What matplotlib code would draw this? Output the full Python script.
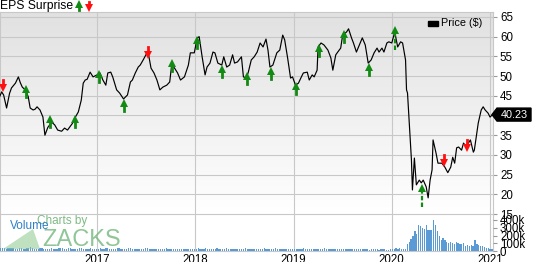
import matplotlib.pyplot as plt
import numpy as np
import pandas as pd
from matplotlib.colors import LinearSegmentedColormap
from matplotlib.lines import Line2D
from matplotlib.patches import Polygon, Rectangle

plt.rcParams['font.family'] = ['Liberation Sans', 'DejaVu Sans']

W, H = 534, 262

# =========================
# Data
# =========================

# weekly-ish closing price, time in decimal years
price_t = [2016.01, 2016.03, 2016.05, 2016.08, 2016.11, 2016.13, 2016.17, 2016.20, 2016.22, 2016.24,
           2016.27, 2016.30, 2016.32, 2016.35, 2016.37, 2016.39, 2016.42, 2016.45, 2016.47, 2016.50,
           2016.54, 2016.57, 2016.60, 2016.64, 2016.67, 2016.70, 2016.75, 2016.78, 2016.81, 2016.84,
           2016.86, 2016.88, 2016.90, 2016.93, 2016.96, 2017.00, 2017.03, 2017.06, 2017.09, 2017.11,
           2017.14, 2017.16, 2017.20, 2017.23, 2017.27, 2017.31, 2017.34, 2017.36, 2017.39, 2017.42,
           2017.44, 2017.47, 2017.50, 2017.52, 2017.55, 2017.58, 2017.61, 2017.64, 2017.67, 2017.71,
           2017.74, 2017.76, 2017.79, 2017.82, 2017.85, 2017.89, 2017.93, 2017.95, 2017.99, 2018.02,
           2018.04, 2018.07, 2018.10, 2018.12, 2018.15, 2018.18, 2018.20, 2018.23, 2018.27, 2018.29,
           2018.32, 2018.35, 2018.38, 2018.40, 2018.43, 2018.47, 2018.49, 2018.52, 2018.54, 2018.57,
           2018.60, 2018.63, 2018.66, 2018.69, 2018.72, 2018.74, 2018.76, 2018.79, 2018.83, 2018.86,
           2018.89, 2018.91, 2018.94, 2018.97, 2018.99, 2019.02, 2019.05, 2019.08, 2019.10, 2019.14,
           2019.16, 2019.19, 2019.21, 2019.24, 2019.25, 2019.28, 2019.31, 2019.35, 2019.38, 2019.40,
           2019.43, 2019.45, 2019.48, 2019.50, 2019.54, 2019.56, 2019.59, 2019.61, 2019.64, 2019.67,
           2019.70, 2019.73, 2019.76, 2019.79, 2019.82, 2019.85, 2019.87, 2019.90, 2019.92, 2019.95,
           2019.97, 2020.00, 2020.03, 2020.06, 2020.09, 2020.11, 2020.14, 2020.15, 2020.16, 2020.18,
           2020.20, 2020.21, 2020.23, 2020.25, 2020.28, 2020.30, 2020.32, 2020.35, 2020.37, 2020.39,
           2020.41, 2020.42, 2020.45, 2020.47, 2020.51, 2020.54, 2020.57, 2020.60, 2020.62, 2020.64,
           2020.66, 2020.68, 2020.71, 2020.73, 2020.76, 2020.78, 2020.80, 2020.83, 2020.84, 2020.87,
           2020.88, 2020.91, 2020.93, 2020.95, 2020.98, 2021.00, 2021.02, 2021.03]
price_v = [44.8, 46.0, 45.2, 41.9, 45.6, 47.0, 48.2, 49.8, 48.3, 47.2,
           46.5, 44.8, 41.9, 41.4, 41.6, 42.2, 41.4, 39.6, 35.0, 37.0,
           38.3, 37.6, 36.3, 36.0, 36.8, 36.3, 38.0, 39.6, 40.9, 43.9,
           48.2, 49.0, 49.2, 51.0, 49.8, 50.3, 50.8, 49.0, 47.7, 50.8,
           51.0, 49.8, 46.5, 45.7, 44.2, 45.2, 48.5, 49.0, 50.8, 52.3,
           52.8, 54.1, 55.5, 56.1, 52.0, 50.8, 49.0, 46.5, 47.2, 47.7,
           48.5, 52.8, 52.0, 50.8, 49.0, 49.8, 52.8, 55.9, 55.9, 59.7,
           60.0, 54.9, 50.3, 52.3, 53.3, 56.1, 55.9, 53.3, 52.8, 54.9,
           52.3, 52.8, 55.4, 53.3, 53.6, 54.9, 49.8, 49.5, 51.0, 54.1,
           54.9, 56.1, 58.4, 57.4, 59.4, 56.6, 52.3, 52.8, 55.9, 56.6,
           60.4, 59.2, 54.6, 49.5, 49.8, 47.7, 48.2, 49.8, 50.8, 51.0,
           49.0, 50.3, 49.8, 51.5, 57.4, 58.4, 57.9, 56.6, 54.6, 51.5,
           55.4, 56.1, 57.1, 60.4, 61.2, 62.0, 59.7, 58.4, 56.1, 57.9,
           59.7, 57.9, 53.3, 54.1, 55.9, 57.1, 56.1, 57.1, 56.1, 58.4,
           58.7, 58.4, 61.2, 57.4, 58.7, 58.4, 54.1, 46.5, 45.7, 37.0,
           28.7, 21.1, 29.2, 22.4, 23.6, 22.9, 23.6, 21.9, 19.1, 23.6,
           26.2, 33.8, 30.5, 27.9, 27.9, 26.9, 25.5, 26.9, 29.4, 27.9,
           31.8, 32.0, 31.2, 33.0, 32.0, 33.0, 33.8, 30.7, 31.2, 36.3,
           38.1, 41.4, 42.2, 41.4, 40.6, 39.6, 40.1, 40.23]

# earnings surprise markers
eps_t = [2016.04, 2016.28, 2016.52, 2016.78, 2017.02, 2017.27, 2017.52, 2017.76, 2018.02, 2018.27,
         2018.53, 2018.77, 2019.03, 2019.26, 2019.51, 2019.77, 2020.03, 2020.31, 2020.53, 2020.77]
eps_p = [47.7, 46.0, 38.4, 38.4, 49.8, 42.4, 56.1, 52.6, 58.4, 51.0,
         49.3, 50.5, 46.7, 56.4, 59.9, 51.5, 59.2, 19.3, 28.7, 32.5]
eps_beat = [False, True, True, True, True, True, False, True, True, True,
            True, True, True, True, True, True, True, True, False, False]
eps_dashed = [False] * 16 + [True, True, False, False]

# weekly volume (thousands of shares)
vol_2016 = [38, 42, 35, 30, 45, 40, 33, 36, 30, 28, 34, 39, 31, 29, 36, 42, 48, 33, 30, 27,
            32, 35, 40, 31, 28, 26, 30, 34, 29, 27, 31, 38, 44, 35, 30, 28, 33, 37, 31, 29,
            27, 30, 36, 33, 28, 26, 29, 32, 35, 30, 24, 27]
vol_2017 = [32, 35, 30, 28, 34, 38, 30, 27, 25, 29, 33, 36, 30, 27, 26, 31, 40, 34, 29, 26,
            28, 31, 27, 25, 30, 33, 38, 31, 28, 26, 24, 28, 32, 29, 26, 30, 35, 31, 27, 25,
            23, 27, 30, 28, 25, 24, 27, 30, 26, 24, 22, 25]
vol_2018 = [28, 33, 30, 26, 32, 36, 29, 26, 24, 27, 30, 34, 28, 25, 27, 31, 36, 30, 26, 24,
            26, 29, 25, 23, 27, 31, 35, 29, 26, 24, 22, 26, 30, 27, 24, 28, 33, 29, 25, 23,
            26, 30, 34, 28, 25, 23, 26, 29, 25, 22, 20, 24]
vol_2019 = [27, 31, 28, 24, 29, 33, 27, 24, 22, 25, 28, 31, 26, 23, 25, 29, 34, 28, 24, 22,
            24, 27, 23, 21, 25, 28, 32, 27, 24, 22, 20, 23, 27, 25, 22, 25, 29, 26, 23, 21,
            19, 22, 25, 23, 20, 18, 21, 24, 22, 19, 17, 20]
vol_2020 = [25, 30, 35, 30, 35, 30, 25, 30, 90, 115, 160, 200, 260, 220, 340, 320, 300, 280, 330, 270,
            270, 275, 400, 340, 260, 200, 140, 170, 140, 120, 100, 120, 105, 90, 120, 100, 85, 95, 100, 70,
            80, 65, 75, 60, 140, 85, 75, 60, 70, 55, 45, 40]
vol_2021 = [30, 28]

years = [2017, 2018, 2019, 2020, 2021]
price_ticks = [15, 20, 25, 30, 35, 40, 45, 50, 55, 60, 65]
vol_ticks = [0, 100, 200, 300, 400]
vol_labels = ["0", "100k", "200k", "300k", "400k"]

GREEN = "#138a13"
RED = "#ff1010"
GRID = "#c8c8c8"

# =========================
# Figure
# =========================

fig = plt.figure(figsize=(W / 100, H / 100), dpi=100)
ax = fig.add_axes([0, 1 - 251 / H, 493 / W, 238.7 / H])

x_lo, x_hi = 2016.013, 2021.03
y_lo, y_hi = 5.61, 66.19

# gradient background above the volume panel
frac15 = (15 - y_lo) / (y_hi - y_lo)
cmap = LinearSegmentedColormap.from_list("bg", ["#e1e1e1", "#ffffff"])
ax.imshow(np.linspace(0, 1, 200).reshape(-1, 1), cmap=cmap, aspect="auto",
          extent=(0, 1, frac15, 1), transform=ax.transAxes, zorder=0)

ax.plot(price_t, price_v, color="black", lw=0.85, zorder=4)

# EPS arrows
for t, p, beat, dashed in zip(eps_t, eps_p, eps_beat, eps_dashed):
    c = GREEN if beat else RED
    s = 1 if beat else -1
    if dashed:
        ax.plot([t, t], [p - 2.6, p + 1.9], color=c, lw=1.6, ls=(0, (2, 1)), zorder=5)
        ax.plot([t], [p + 2.4], marker="^", ms=5.5, color=c, mew=0, zorder=5)
    else:
        ax.plot([t, t], [p - 1.2 * s, p + 0.3 * s], color=c, lw=2.0, zorder=5)
        ax.plot([t], [p + 0.8 * s], marker="^" if beat else "v", ms=5.5, color=c, mew=0, zorder=5)

# volume
vol = vol_2016 + vol_2017 + vol_2018 + vol_2019 + vol_2020 + vol_2021
dates = pd.date_range("2016-01-08", periods=len(vol), freq="W-FRI")
vol_t = dates.year + (dates.dayofyear - 1) / np.where(dates.is_leap_year, 366, 365)
ax2 = ax.twinx()
ax2.bar(vol_t, np.array(vol) * 1000, width=0.013, color="#5b9bd5", zorder=2)
ax2.set_ylim(0, 400000 * 238.7 / 31)
ax2.set_yticks([v * 1000 for v in vol_ticks])
ax2.set_yticklabels(vol_labels)
ax2.tick_params(axis="y", length=3, pad=2, color="#9a9a9a", labelsize=8.3)
ax2.patch.set_visible(False)
for sp in ax2.spines.values():
    sp.set_visible(False)
ax2.set_xlim(x_lo, x_hi)

# price axis (after twinx, which moves ticks to the left)
ax.set_xlim(x_lo, x_hi)
ax.set_ylim(y_lo, y_hi)
ax.set_xticks(years)
ax.set_xticklabels([str(y) for y in years])
ax.set_yticks(price_ticks)
ax.yaxis.tick_right()
ax.yaxis.set_label_position("right")
ax.grid(True, color=GRID, lw=0.8)
ax.set_axisbelow(True)
ax.tick_params(axis="y", which="both", left=False, labelleft=False, right=True, labelright=True,
               length=3, pad=2, color="#9a9a9a", labelsize=8.3)
ax.tick_params(axis="x", length=0, pad=2, labelsize=8.3)
for sp in ax.spines.values():
    sp.set_color(GRID)

# header
fig.text(0, 1 - 0.5 / H, "EPS Surprise", fontsize=8.7, va="top", ha="left")
fig.add_artist(Line2D([79 / W, 79 / W], [1 - 10 / H, 1 - 6 / H], color=GREEN, lw=2.0,
                      transform=fig.transFigure))
fig.add_artist(Line2D([79 / W], [1 - 4 / H], marker="^", ms=5.5, mew=0, color=GREEN,
                      transform=fig.transFigure))
fig.add_artist(Line2D([89 / W, 89 / W], [1 - 2 / H, 1 - 6 / H], color=RED, lw=2.0,
                      transform=fig.transFigure))
fig.add_artist(Line2D([89 / W], [1 - 8 / H], marker="v", ms=5.5, mew=0, color=RED,
                      transform=fig.transFigure))

# legend
fig.add_artist(Rectangle((428 / W, 1 - 25.5 / H), 10 / W, 4.5 / H, color="black",
                         transform=fig.transFigure))
fig.text(441 / W, 1 - 23.5 / H, "Price ($)", fontsize=7.8, va="center", ha="left")

# last price tag
last = price_v[-1]
_, yf = fig.transFigure.inverted().transform(ax.transData.transform((x_hi, last)))
hh = 6.5 / H
fig.add_artist(Polygon([(492 / W, yf), (497 / W, yf + hh), (531 / W, yf + hh),
                        (531 / W, yf - hh), (497 / W, yf - hh)], closed=True,
                       color="black", transform=fig.transFigure))
fig.text(514 / W, yf, f"{last:.2f}", color="white", fontsize=7.8, va="center", ha="center")

# watermark + volume label
fig.add_artist(Polygon([(3 / W, 1 - 249 / H), (40 / W, 1 - 249 / H), (33 / W, 1 - 229 / H)],
                       closed=True, color="#8cc98c", alpha=0.55, lw=0,
                       transform=fig.transFigure))
fig.text(37 / W, 1 - 221 / H, "Charts by", fontsize=8.5, color="#7dbb85", va="center")
fig.text(42 / W, 1 - 240 / H, "ZACKS", fontsize=17, color="#7dbb85", alpha=0.85, va="center")
fig.text(10 / W, 1 - 226 / H, "Volume", fontsize=8.5, color="#2f7fc8", va="center")

fig.savefig("out.png", dpi=100)
